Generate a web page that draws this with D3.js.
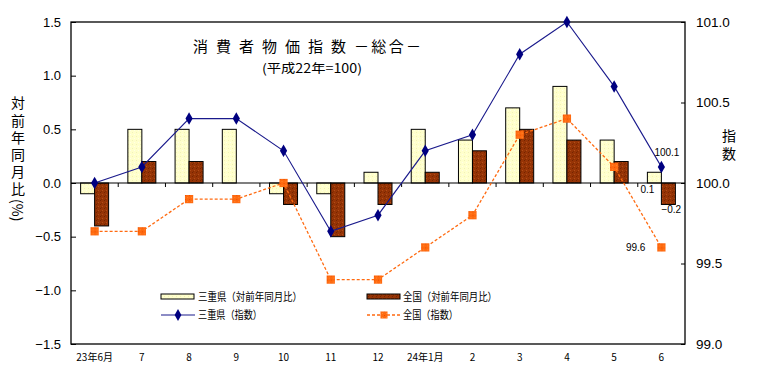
<!DOCTYPE html>
<html><head><meta charset="utf-8">
<script src="https://cdn.jsdelivr.net/npm/d3@7"></script>
<style>
body{margin:0;background:#fff;}
svg{display:block;}
text{font-family:"Liberation Sans",Arial,sans-serif;fill:#000;}
.jp{font-family:"Noto Sans CJK JP","Noto Sans",sans-serif;}
.vt{writing-mode:vertical-rl;}
</style></head>
<body>
<svg id="c" width="784" height="378"></svg>
<script>
const categories = ["23年6月","7","8","9","10","11","12","24年1月","2","3","4","5","6"];
const mieRatio   = [-0.1,0.5,0.5,0.5,-0.1,-0.1,0.1,0.5,0.4,0.7,0.9,0.4,0.1];
const zenRatio   = [-0.4,0.2,0.2,0.0,-0.2,-0.5,-0.2,0.1,0.3,0.5,0.4,0.2,-0.2];
const mieIndex   = [100.0,100.1,100.4,100.4,100.2,99.7,99.8,100.2,100.3,100.8,101.0,100.6,100.1];
const zenIndex   = [99.7,99.7,99.9,99.9,100.0,99.4,99.4,99.6,99.8,100.3,100.4,100.1,99.6];
const leftTicks  = [-1.5,-1.0,-0.5,0.0,0.5,1.0,1.5];
const rightTicks = [99.0,99.5,100.0,100.5,101.0];
const legendLabels = ["三重県（対前年同月比）","全国（対前年同月比）","三重県（指数）","全国（指数）"];
const titleText = "消 費 者 物 価 指 数 －総合－";
const subtitleText = "(平成22年=100)";
const leftTitleMain = "対前年同月比";
const leftTitleUnit = "(%)";
const rightTitle = "指数";

const svg = d3.select("#c");
const L=71,R=685,T=22,B=344;
const x = d3.scaleBand().domain(categories).range([L,R]).paddingInner(0).paddingOuter(0);
const yL = d3.scaleLinear().domain([-1.5,1.5]).range([B,T]);
const yR = d3.scaleLinear().domain([99,101]).range([B,T]);
const bw = 14;
const cx = c => x(c)+x.bandwidth()/2;
const f1 = d3.format(".1f");

// patterns
const defs = svg.append("defs");
function pat(id, base, dots){
  const p = defs.append("pattern").attr("id",id).attr("width",4).attr("height",4).attr("patternUnits","userSpaceOnUse");
  p.append("rect").attr("width",4).attr("height",4).attr("fill",base);
  dots.forEach(d=>p.append("rect").attr("x",d[0]).attr("y",d[1]).attr("width",1).attr("height",1).attr("fill",d[2]));
}
pat("py","#FFFFCC",[[0,0,"#F2F2B8"],[2,2,"#FFFFE8"]]);
pat("pb","#963406",[[0,0,"#742400"],[2,2,"#B24E18"],[1,3,"#802c00"]]);
pat("po","#FF6A10",[[0,0,"#E85000"],[2,2,"#FF8A30"]]);

// plot box
svg.append("rect").attr("x",L).attr("y",T).attr("width",R-L).attr("height",B-T)
  .attr("fill","none").attr("stroke","#000").attr("stroke-width",1.3);

// axes
const axL = d3.axisLeft(yL).tickValues(leftTicks).tickFormat(f1).tickSizeInner(-5).tickSizeOuter(0).tickPadding(10);
const gL = svg.append("g").attr("transform",`translate(${L},0)`).call(axL);
gL.select(".domain").remove();
gL.selectAll("text").attr("font-size",13).attr("font-family","Liberation Sans,Arial,sans-serif");
gL.selectAll("line").attr("stroke","#000");

const axR = d3.axisRight(yR).tickValues(rightTicks).tickFormat(f1).tickSizeInner(-4).tickSizeOuter(0).tickPadding(11);
const gR = svg.append("g").attr("transform",`translate(${R},0)`).call(axR);
gR.select(".domain").remove();
gR.selectAll("text").attr("font-size",13.5).attr("font-family","Liberation Sans,Arial,sans-serif");
gR.selectAll("line").attr("stroke","#000");

// bars
svg.append("g").selectAll("rect").data(categories).join("rect")
  .attr("x",c=>cx(c)-bw).attr("width",bw)
  .attr("y",(c,i)=>Math.min(yL(mieRatio[i]),yL(0)))
  .attr("height",(c,i)=>Math.abs(yL(mieRatio[i])-yL(0)))
  .attr("fill","url(#py)").attr("stroke","#000").attr("stroke-width",1);
svg.append("g").selectAll("rect").data(categories).join("rect")
  .attr("x",c=>cx(c)).attr("width",bw)
  .attr("y",(c,i)=>Math.min(yL(zenRatio[i]),yL(0)))
  .attr("height",(c,i)=>Math.abs(yL(zenRatio[i])-yL(0)))
  .attr("fill","url(#pb)").attr("stroke","#000").attr("stroke-width",1);

// zero axis with ticks at band boundaries
const y0 = yL(0);
svg.append("line").attr("x1",L).attr("x2",R).attr("y1",y0).attr("y2",y0).attr("stroke","#000").attr("stroke-width",1.2);
svg.append("g").selectAll("line").data(categories.slice(1)).join("line")
  .attr("x1",c=>x(c)).attr("x2",c=>x(c)).attr("y1",y0).attr("y2",y0+4).attr("stroke","#000");

// x labels
svg.append("g").selectAll("text").data(categories).join("text")
  .attr("class","jp").attr("x",cx).attr("y",361).attr("text-anchor","middle")
  .attr("font-size",10).text(d=>d);

// lines
const line = d3.line().x((d,i)=>cx(categories[i])).y(d=>yR(d));
svg.append("path").datum(zenIndex).attr("d",line).attr("fill","none")
  .attr("stroke","#FF6A10").attr("stroke-width",1.3).attr("stroke-dasharray","3,2");
svg.append("path").datum(mieIndex).attr("d",line).attr("fill","none")
  .attr("stroke","#1a1a8c").attr("stroke-width",1.1);
svg.append("g").selectAll("path").data(mieIndex).join("path")
  .attr("d",d3.symbol(d3.symbolDiamond,45))
  .attr("transform",(d,i)=>`translate(${cx(categories[i])},${yR(d)})`)
  .attr("fill","#000080");
svg.append("g").selectAll("path").data(zenIndex).join("path")
  .attr("d",d3.symbol(d3.symbolSquare,68))
  .attr("transform",(d,i)=>`translate(${cx(categories[i])},${yR(d)})`)
  .attr("fill","url(#po)");

// annotations for last category
const last = categories.length-1, lc = cx(categories[last]);
svg.append("text").attr("x",lc-7).attr("y",yR(mieIndex[last])-11).attr("text-anchor","start").attr("font-size",10).text(f1(mieIndex[last]));
svg.append("text").attr("x",lc-7).attr("y",yL(0)+10).attr("text-anchor","end").attr("font-size",10).text(f1(mieRatio[last]));
svg.append("text").attr("x",lc).attr("y",yL(zenRatio[last])+9).attr("text-anchor","start").attr("font-size",10).text(f1(zenRatio[last]));
svg.append("text").attr("x",lc-16).attr("y",yR(zenIndex[last])+4).attr("text-anchor","end").attr("font-size",10).text(f1(zenIndex[last]));

// title
svg.append("text").attr("class","jp").attr("x",193).attr("y",52).attr("font-size",15)
  .attr("textLength",228).attr("lengthAdjust","spacing").text(titleText);
svg.append("text").attr("class","jp").attr("x",262).attr("y",73).attr("font-size",12.5)
  .attr("textLength",100).attr("lengthAdjust","spacingAndGlyphs").text(subtitleText);

// axis titles (vertical)
const lt = svg.append("text").attr("class","jp vt").attr("x",18).attr("y",96).attr("font-size",14);
lt.append("tspan").style("letter-spacing","3.2px").text(leftTitleMain);
lt.append("tspan").style("letter-spacing","0px").text(leftTitleUnit);
svg.append("text").attr("class","jp vt").attr("x",729).attr("y",129)
  .attr("font-size",14).style("letter-spacing","3.5px").text(rightTitle);

// legend
const lg = svg.append("g");
const lx = [161,367], ly=[297,315], tx=[198,403];
const lw = [104,94,64,55];
lg.append("rect").attr("x",lx[0]).attr("y",ly[0]-3).attr("width",33).attr("height",5).attr("fill","url(#py)").attr("stroke","#000");
lg.append("rect").attr("x",lx[1]).attr("y",ly[0]-3).attr("width",33).attr("height",5).attr("fill","url(#pb)").attr("stroke","#000");
lg.append("line").attr("x1",lx[0]).attr("x2",lx[0]+34).attr("y1",ly[1]).attr("y2",ly[1]).attr("stroke","#1a1a8c").attr("stroke-width",1.1);
lg.append("path").attr("d",d3.symbol(d3.symbolDiamond,40)).attr("transform",`translate(${lx[0]+17},${ly[1]})`).attr("fill","#000080");
lg.append("line").attr("x1",lx[1]).attr("x2",lx[1]+34).attr("y1",ly[1]).attr("y2",ly[1]).attr("stroke","#FF6A10").attr("stroke-width",1.3).attr("stroke-dasharray","3,2");
lg.append("path").attr("d",d3.symbol(d3.symbolSquare,50)).attr("transform",`translate(${lx[1]+17},${ly[1]})`).attr("fill","url(#po)");
legendLabels.forEach((s,i)=>{
  lg.append("text").attr("class","jp").attr("x",tx[i%2]).attr("y",ly[Math.floor(i/2)]+4)
    .attr("font-size",11).attr("textLength",lw[i]).attr("lengthAdjust","spacingAndGlyphs").text(s);
});
</script>
</body></html>
